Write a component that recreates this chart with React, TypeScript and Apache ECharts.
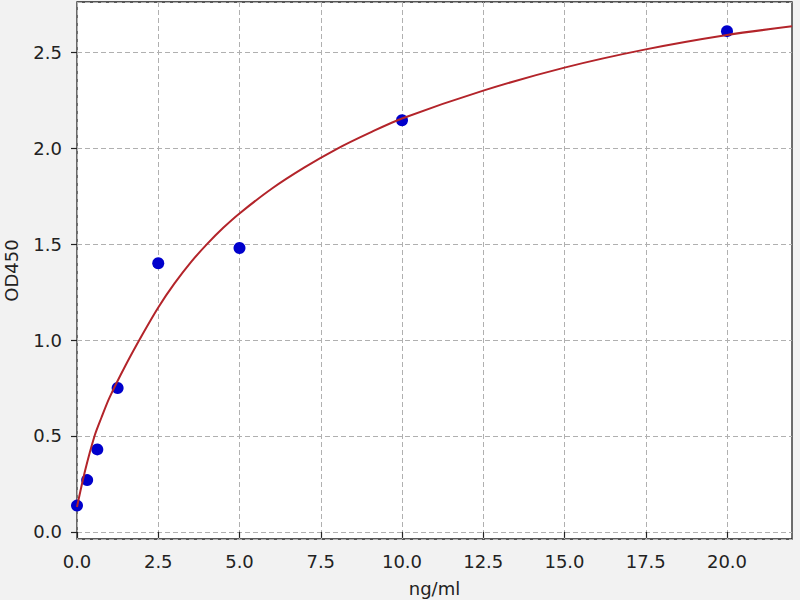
import React, { useEffect, useRef } from "react";
import * as echarts from "echarts";

// Standards (concentration ng/ml) and measured OD450
const conc = [0, 0.3125, 0.625, 1.25, 2.5, 5, 10, 20];
const od = [0.137, 0.27, 0.43, 0.75, 1.40, 1.48, 2.146, 2.61];

// Fitted curve
const fitX = [0, 0.25, 0.54, 0.75, 1.0, 1.5, 2.0, 2.5, 3.0, 3.5, 4.0, 4.5, 5.0, 6.0, 7.0, 8.0, 9.0, 10, 12.5, 15, 17.5, 20, 22];
const fitY = [0.13, 0.32, 0.50, 0.595, 0.70, 0.87, 1.025, 1.17, 1.295, 1.405, 1.50, 1.585, 1.66, 1.79, 1.90, 1.997, 2.08, 2.155, 2.30, 2.42, 2.515, 2.59, 2.635];

const xTicks = [0, 2.5, 5, 7.5, 10, 12.5, 15, 17.5, 20];
const xLabel = "ng/ml";
const yLabel = "OD450";

export default function App() {
  const ref = useRef<HTMLDivElement>(null);
  useEffect(() => {
    document.body.style.margin = "0";
    const chart = echarts.init(ref.current!, null, { renderer: "svg" });
    const font = "DejaVu Sans";
    const gridLine = { show: true, lineStyle: { color: "#b0b0b0", type: [5, 3], width: 1 } };
    chart.setOption({
      animation: false,
      backgroundColor: "#f2f2f2",
      textStyle: { fontFamily: font },
      grid: {
        left: 77,
        top: 2,
        right: 8,
        bottom: 61,
        outerBoundsMode: "none",
        containLabel: false,
        show: true,
        backgroundColor: "#ffffff",
        borderColor: "#222",
        borderWidth: 1.3,
      },
      xAxis: {
        type: "value",
        min: 0,
        max: 22,
        interval: 2.5,
        name: xLabel,
        nameLocation: "middle",
        nameGap: 40,
        nameMoveOverlap: false,
        nameTextStyle: { fontSize: 18, color: "#222", fontFamily: font },
        axisLine: { show: false },
        axisTick: { show: true, length: 6, lineStyle: { color: "#222", width: 1.2 }, customValues: xTicks },
        axisLabel: {
          fontSize: 18,
          color: "#222",
          fontFamily: font,
          margin: 13,
          customValues: xTicks,
          formatter: (v: number) => v.toFixed(1),
        },
        splitLine: gridLine,
      },
      yAxis: {
        type: "value",
        min: -0.037,
        max: 2.762,
        splitNumber: 6,
        name: yLabel,
        nameLocation: "middle",
        nameGap: 57,
        nameRotate: 90,
        nameMoveOverlap: false,
        nameTextStyle: { fontSize: 18, color: "#222", fontFamily: font },
        axisLine: { show: false },
        axisTick: { show: true, length: 6, lineStyle: { color: "#222", width: 1.2 } },
        axisLabel: {
          fontSize: 18,
          color: "#222",
          fontFamily: font,
          margin: 15,
          showMinLabel: false,
          showMaxLabel: false,
          formatter: (v: number) => v.toFixed(1),
        },
        splitLine: gridLine,
      },
      series: [
        {
          type: "scatter",
          data: conc.map((c, i) => [c, od[i]]),
          symbolSize: 12,
          itemStyle: { color: "#0000cc", opacity: 1 },
          z: 2,
        },
        {
          type: "line",
          data: fitX.map((x, i) => [x, fitY[i]]),
          smooth: 0.3,
          showSymbol: false,
          lineStyle: { color: "#b3242a", width: 2 },
          z: 3,
        },
      ],
    });
    return () => chart.dispose();
  }, []);
  return <div ref={ref} style={{ width: 800, height: 600 }} />;
}
